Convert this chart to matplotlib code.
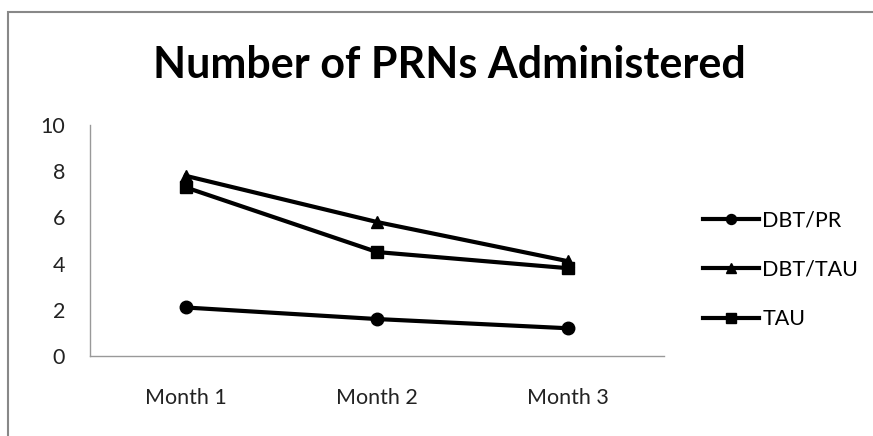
import matplotlib.pyplot as plt
from matplotlib.patches import Rectangle

months = ['Month 1', 'Month 2', 'Month 3']
dbt_pr = [2.1, 1.6, 1.2]
dbt_tau = [7.8, 5.8, 4.1]
tau = [7.3, 4.5, 3.8]

plt.rcParams['font.family'] = ['Lato', 'DejaVu Sans']

fig = plt.figure(figsize=(8.73, 4.36), dpi=100)
ax = fig.add_axes([90 / 873, 80 / 436, 574 / 873, 231 / 436])

x = range(len(months))
ax.plot(x, dbt_pr, marker='o', color='black', linewidth=3, markersize=9, label='DBT/PR')
ax.plot(x, dbt_tau, marker='^', color='black', linewidth=3, markersize=9, label='DBT/TAU')
ax.plot(x, tau, marker='s', color='black', linewidth=3, markersize=9, label='TAU')

ax.set_xlim(-0.5, 2.5)
ax.set_ylim(0, 10)
ax.set_yticks([0, 2, 4, 6, 8, 10])
ax.set_xticks(list(x))
ax.set_xticklabels(months)
ax.tick_params(axis='both', length=0, labelsize=15.5, colors='#222222')
ax.tick_params(axis='x', pad=23)
ax.tick_params(axis='y', pad=18)
for s in ['top', 'right']:
    ax.spines[s].set_visible(False)
for s in ['left', 'bottom']:
    ax.spines[s].set_color('#999999')
    ax.spines[s].set_linewidth(1)

fig.text(449 / 873, 1 - 65 / 436, 'Number of PRNs Administered', ha='center', va='center',
         fontsize=31, fontweight='bold')

fig.legend(loc='center left', bbox_to_anchor=(703 / 873, 1 - 270 / 436), frameon=False,
           fontsize=15.5, handlelength=2.6, handletextpad=0.15, labelspacing=1.35, borderpad=0,
           borderaxespad=0, markerscale=0.8)

# outer chart frame
fig.patches.append(Rectangle((8 / 873, -0.1), 1.2, 1.1 - 12 / 436, transform=fig.transFigure,
                             fill=False, edgecolor='#888888', linewidth=1.5))

fig.savefig('out.png', dpi=100)
plt.close()
